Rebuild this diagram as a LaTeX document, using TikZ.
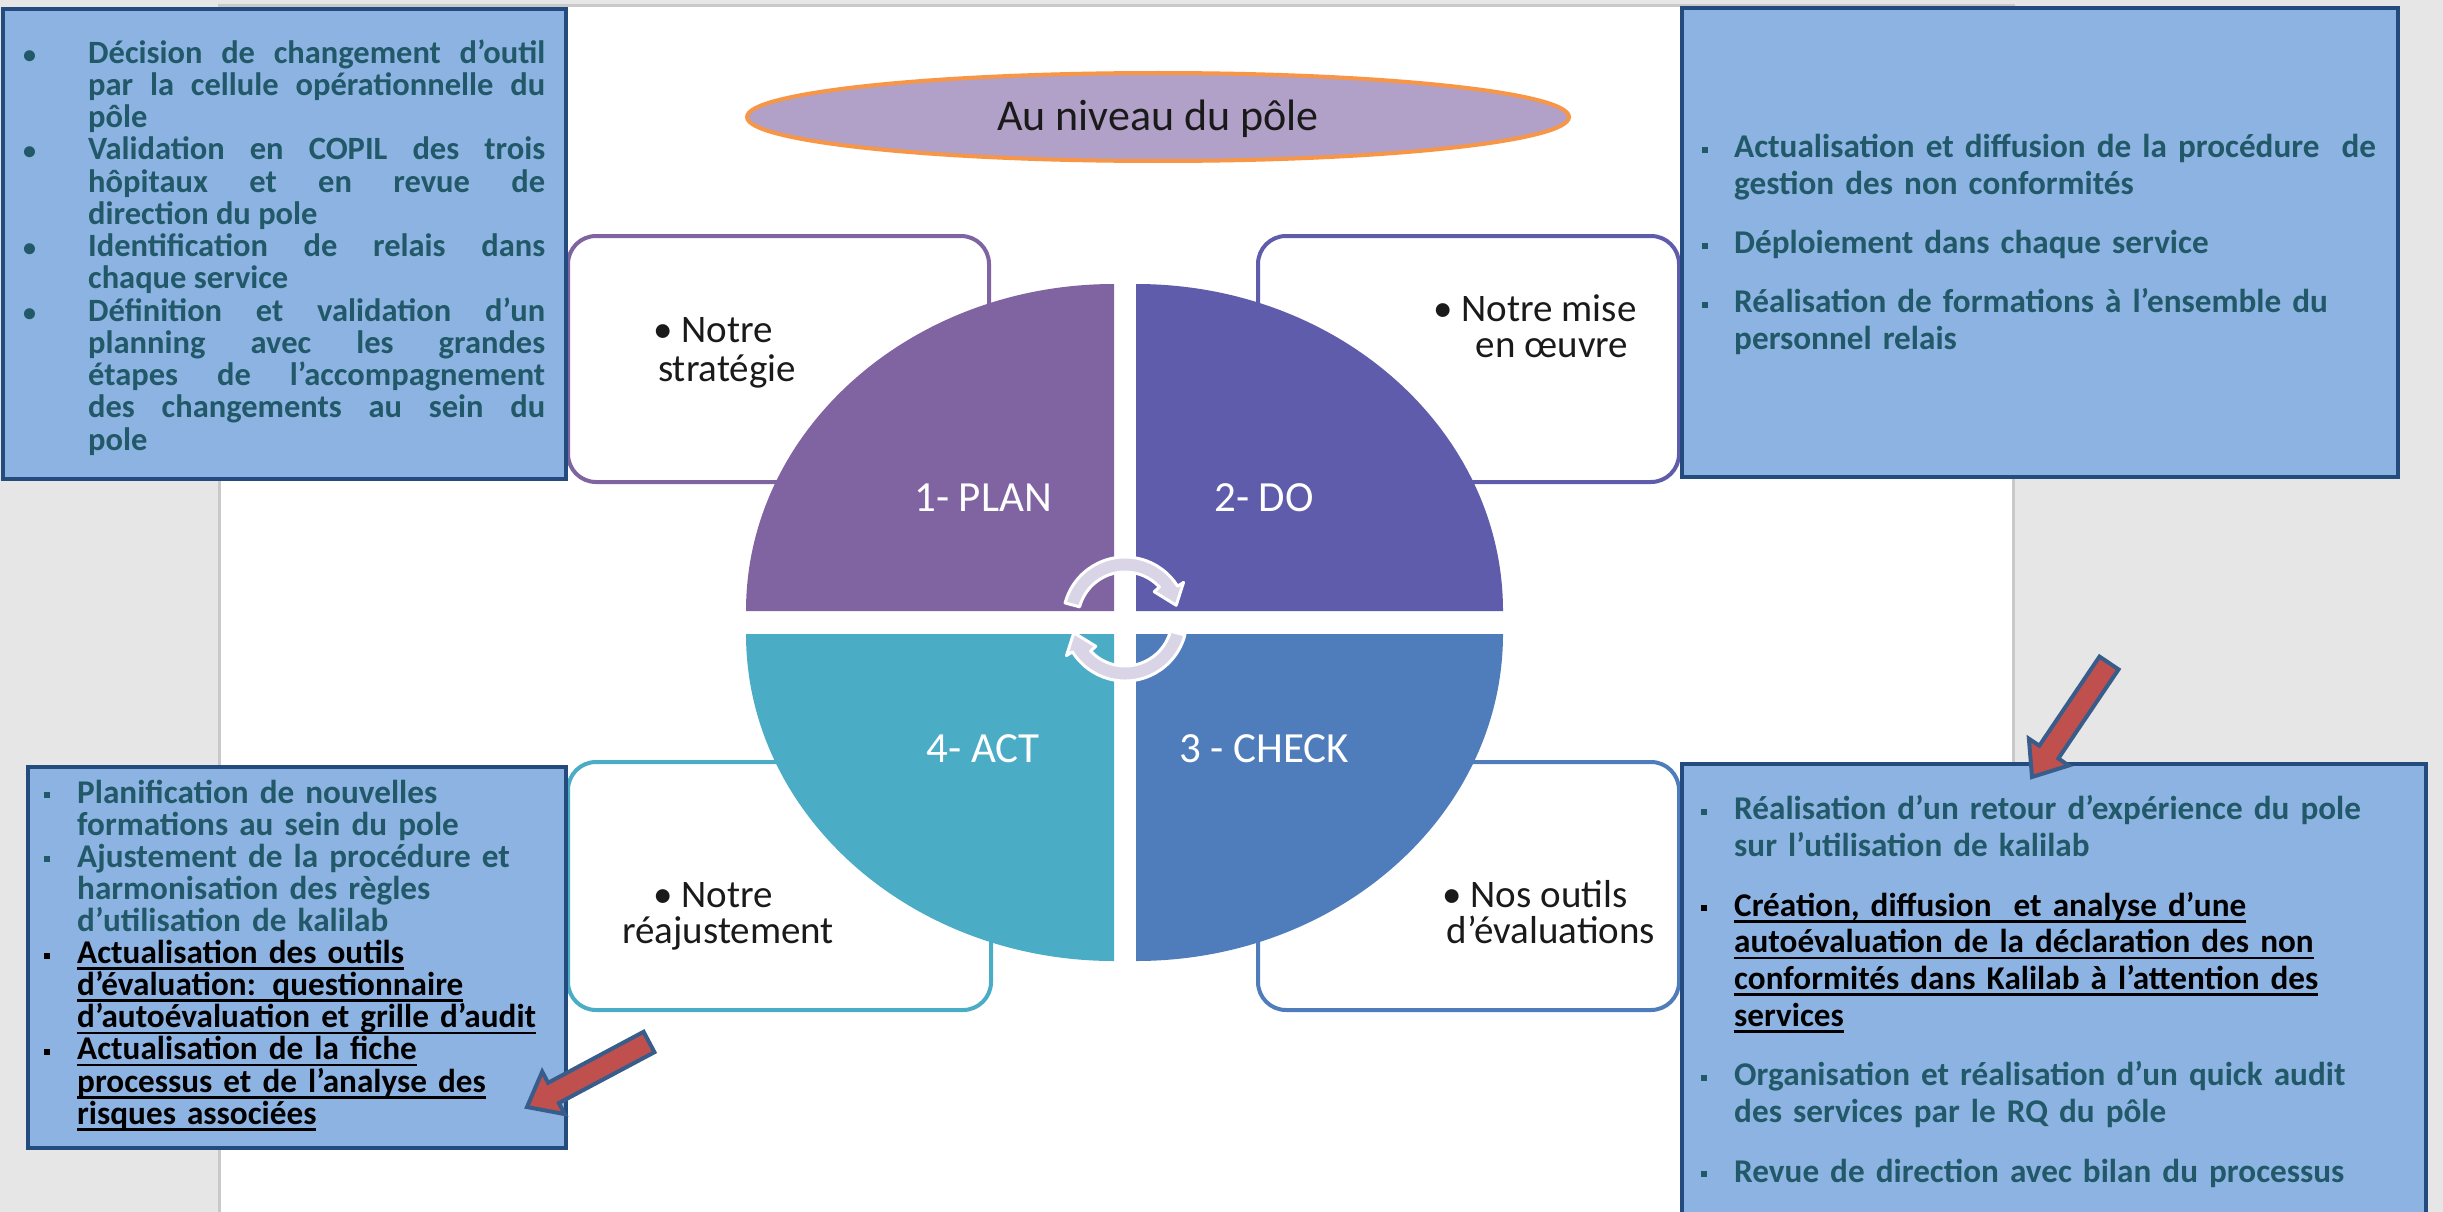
\documentclass[tikz,border=0pt]{standalone}
\usepackage{fontspec}
\setmainfont{Carlito}
\usetikzlibrary{shapes.geometric,calc}
\definecolor{bgGray}{HTML}{E6E6E6}
\definecolor{pageLine}{HTML}{C9C9C9}
\definecolor{boxFill}{HTML}{8DB3E2}
\definecolor{boxLine}{HTML}{234B7D}
\definecolor{tealText}{HTML}{215968}
\definecolor{planC}{HTML}{8064A2}
\definecolor{doC}{HTML}{5F5CAC}
\definecolor{checkC}{HTML}{4F7DBB}
\definecolor{actC}{HTML}{4BACC6}
\definecolor{ovalFill}{HTML}{B1A0C7}
\definecolor{ovalLine}{HTML}{F79646}
\definecolor{arrowRed}{HTML}{C0504D}
\definecolor{arrowLine}{HTML}{385D8A}
\definecolor{cycleCore}{HTML}{D9D5E6}
\definecolor{darkText}{HTML}{1A1A1A}
\newcommand\bitem[2]{\par\hangindent=#1\hangafter=1\noindent\makebox[#1][l]{#2}}
\newcommand\sqbul{\rule[5pt]{6pt}{6pt}}
\newcommand\tlbul{{\fontsize{26}{26}\selectfont\hspace*{1pt}•}}
\newcommand\myul[1]{\setbox0=\hbox{#1}\rlap{\rule[-6.5pt]{\wd0}{2.8pt}}\box0}
\newcommand\btfont[2]{\bfseries\fontsize{#1}{#2}\selectfont\lineskiplimit=-100pt\tolerance=10000 \hbadness=10000 \hyphenpenalty=10000 \relax}
\begin{document}
\begin{tikzpicture}[x=1pt,y=-1pt,
  bluebox/.style={rectangle,draw=boxLine,fill=boxFill,line width=4pt,inner sep=0pt},
  wbox/.style={rectangle,rounded corners=28pt,line width=4pt,fill=white,inner sep=0pt},
  btext/.style={anchor=base west,inner sep=0pt,text=tealText},
  wtxt/.style={anchor=base,inner sep=0pt,text=darkText,font=\fontsize{39}{46}\selectfont},
  qlabel/.style={anchor=base,inner sep=0pt,text=white,font=\fontsize{43}{50}\selectfont},
  carrow/.style={fill=cycleCore,draw=white,line width=3pt,line join=round},
  redarrow/.style={fill=arrowRed,draw=arrowLine,line width=4pt,line join=miter}]
\useasboundingbox (0,0) rectangle (2443,1212);
% background and page
\fill[bgGray] (0,0) rectangle (2443,1212);
\draw[pageLine,line width=3pt,fill=white] (219,6) rectangle (2013,1230);
% white rounded boxes
\node[wbox,draw=planC,minimum width=421pt,minimum height=246pt] (wTL) at (778.5,359) {};
\node[wbox,draw=doC,minimum width=421pt,minimum height=246pt] (wTR) at (1468.5,359) {};
\node[wbox,draw=actC,minimum width=423pt,minimum height=248pt] (wBL) at (779.5,886) {};
\node[wbox,draw=checkC,minimum width=421pt,minimum height=248pt] (wBR) at (1468.5,886) {};
% quarters
\fill[planC] (1114,611) -- (1114,284) arc[start angle=270,end angle=180,x radius=368,y radius=327] -- cycle;
\fill[doC] (1136,611) -- (1136,284) arc[start angle=270,end angle=360,x radius=367,y radius=327] -- cycle;
\fill[checkC] (1136,634) -- (1503,634) arc[start angle=0,end angle=90,x radius=367,y radius=327] -- cycle;
\fill[actC] (1114,634) -- (1114,961) arc[start angle=90,end angle=180,x radius=368,y radius=327] -- cycle;
% quarter labels
\node[qlabel] (lPlan) at (983,511) {1- PLAN};
\node[qlabel] (lDo) at (1264,511) {2- DO};
\node[qlabel] (lAct) at (983,762) {4- ACT};
\node[qlabel] (lCheck) at (1264,762) {3 - CHECK};
% central cycle arrows
\coordinate (ctr) at (1125,619);
\draw[carrow] ($(ctr)+(195:62)$) arc[start angle=195,end angle=328,radius=62]
  -- ($(ctr)+(328:69)$) -- ($(ctr)+(345:53)$) -- ($(ctr)+(317:40)$)
  -- ($(ctr)+(317:47)$) arc[start angle=317,end angle=195,radius=47] -- cycle;
\draw[carrow] ($(ctr)+(15:62)$) arc[start angle=15,end angle=148,radius=62]
  -- ($(ctr)+(148:69)$) -- ($(ctr)+(165:53)$) -- ($(ctr)+(137:40)$)
  -- ($(ctr)+(137:47)$) arc[start angle=137,end angle=15,radius=47] -- cycle;
% white box texts
\node[wtxt] (tTL1) at (713,342) {• Notre};
\node[wtxt] (tTL2) at (727,381) {stratégie};
\node[wtxt] (tTR1) at (1535,321) {• Notre mise};
\node[wtxt] (tTR2) at (1552,357) {en œuvre};
\node[wtxt] (tBL1) at (713,907) {• Notre};
\node[wtxt] (tBL2) at (728,943) {réajustement};
\node[wtxt] (tBR1) at (1535,907) {• Nos outils};
\node[wtxt] (tBR2) at (1551,943) {d'évaluations};
% blue boxes
\node[bluebox,minimum width=563pt,minimum height=470pt] (bTL) at (284.5,244) {};
\node[bluebox,minimum width=716pt,minimum height=469pt] (bTR) at (2040,242.5) {};
\node[bluebox,minimum width=538pt,minimum height=381pt] (bBL) at (297,957.5) {};
\node[bluebox,minimum width=744pt,minimum height=476pt] (bBR) at (2054,1002) {};
% blue box texts
\node[btext,text width=523pt,align=justify,font={\btfont{32.5}{32.25}}] (xTL) at (22,31) {%
\bitem{66pt}{\tlbul}Décision de changement d'outil\linebreak par la cellule opérationnelle du\linebreak pôle
\bitem{66pt}{\tlbul}Validation en COPIL des trois\linebreak hôpitaux et en revue de\linebreak direction du pole
\bitem{66pt}{\tlbul}Identification de relais dans\linebreak chaque service
\bitem{66pt}{\tlbul}Définition et validation d'un\linebreak planning avec les grandes\linebreak étapes de l'accompagnement\linebreak des changements au sein du\linebreak pole\par};
\node[btext,text width=700pt,font={\btfont{33.2}{36.7}}] (xTR) at (1702,121) {%
\bitem{32pt}{\sqbul}Actualisation et diffusion de la procédure\ \ de\newline gestion des non conformités
\par\vspace{22.5pt}\bitem{32pt}{\sqbul}Déploiement dans chaque service
\par\vspace{22.5pt}\bitem{32pt}{\sqbul}Réalisation de formations à l'ensemble du\newline personnel relais\par};
\node[btext,text width=510pt,font={\btfont{33.2}{32.1}}] (xBL) at (44,771) {%
\bitem{33pt}{\sqbul}Planification de nouvelles\newline formations au sein du pole
\bitem{33pt}{\sqbul}Ajustement de la procédure et\newline harmonisation des règles\newline d'utilisation de kalilab
\bitem{33pt}{\color{black}\sqbul}{\color{black}\myul{Actualisation des outils}\newline \myul{d'évaluation: questionnaire}\newline \myul{d'autoévaluation et grille d'audit}}
\bitem{33pt}{\color{black}\sqbul}{\color{black}\myul{Actualisation de la fiche}\newline \myul{processus et de l'analyse des}\newline \myul{risques associées}}\par};
\node[btext,text width=700pt,font={\btfont{33.2}{36.7}}] (xBR) at (1701,783) {%
\bitem{33pt}{\sqbul}Réalisation d'un retour d'expérience du pole\newline sur l'utilisation de kalilab
\par\vspace{23pt}\bitem{33pt}{\color{black}\sqbul}{\color{black}\myul{Création, diffusion\ \ et analyse d'une}\newline \myul{autoévaluation de la déclaration des non}\newline \myul{conformités dans Kalilab à l'attention des}\newline \myul{services}}
\par\vspace{23pt}\bitem{33pt}{\sqbul}Organisation et réalisation d'un quick audit\newline des services par le RQ du pôle
\par\vspace{23pt}\bitem{33pt}{\sqbul}Revue de direction avec bilan du processus\par};
% red block arrows
\draw[redarrow] (2099.5,656.6) -- (2039.3,745.7) -- (2028.9,738.7) -- (2032,777)
  -- (2068.7,765.5) -- (2058.3,758.5) -- (2118.5,669.4) -- cycle;
\draw[redarrow] (643.6,1031.8) -- (548.1,1082.8) -- (542.2,1071.7) -- (527,1107)
  -- (564.8,1114.1) -- (558.9,1103.0) -- (654.4,1052.2) -- cycle;
% title oval
\node[ellipse,fill=ovalFill,draw=ovalLine,line width=4pt,minimum width=822pt,minimum height=88pt,inner sep=0pt] (oval) at (1158,117) {};
\node[anchor=base,inner sep=0pt,text=darkText,font=\fontsize{44}{50}\selectfont] (ovalTxt) at (1158,131) {Au niveau du pôle};
\end{tikzpicture}
\end{document}
